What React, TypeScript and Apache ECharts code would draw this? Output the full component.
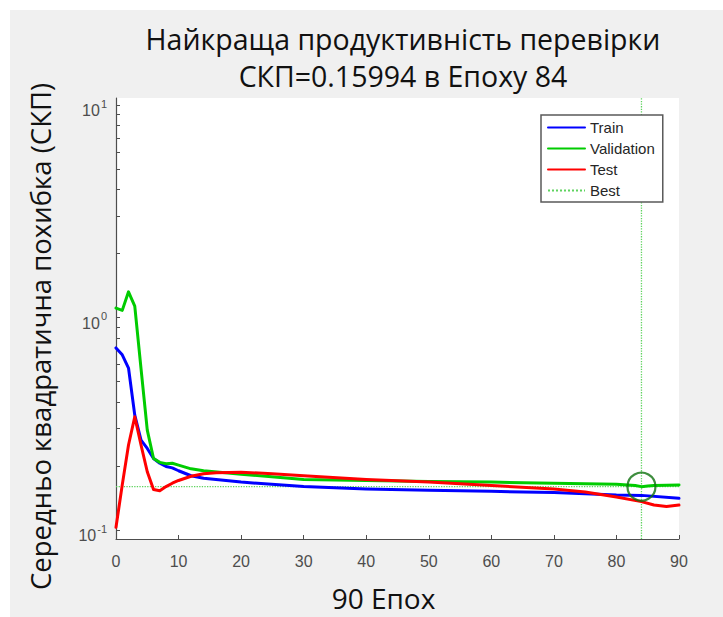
import React, { useEffect, useRef } from 'react';
import * as echarts from 'echarts';

// ---- data ----
const titleLines = ['Найкраща продуктивність перевірки', 'СКП=0.15994 в Епоху 84'];
const xAxisName = '90 Епох';
const yAxisName = 'Середньо квадратична похибка (СКП)';
const legendNames = ['Train', 'Validation', 'Test', 'Best'];

const trainEpochs = [0, 1, 2, 3, 4, 5, 6, 7, 8, 9, 10, 12, 14, 20, 30, 40, 50, 60, 70, 80, 84, 90];
const trainValues = [0.719, 0.667, 0.578, 0.347, 0.265, 0.242, 0.217, 0.206, 0.199, 0.196, 0.19, 0.18, 0.175, 0.168, 0.16, 0.156, 0.154, 0.152, 0.15, 0.146, 0.1455, 0.141];

const valEpochs = [0, 1, 2, 3, 4, 5, 6, 7, 8, 9, 10, 12, 14, 20, 30, 40, 50, 60, 70, 80, 83, 84, 85, 86, 90];
const valValues = [1.107, 1.08, 1.32, 1.13, 0.574, 0.295, 0.217, 0.208, 0.205, 0.206, 0.202, 0.194, 0.19, 0.183, 0.173, 0.171, 0.169, 0.168, 0.166, 0.164, 0.162, 0.15994, 0.161, 0.162, 0.163];

const testEpochs = [0, 1, 2, 3, 4, 5, 6, 7, 8, 9, 10, 12, 14, 16, 20, 25, 30, 40, 50, 60, 70, 75, 80, 84, 86, 88, 90];
const testValues = [0.103, 0.163, 0.251, 0.341, 0.251, 0.188, 0.155, 0.153, 0.16, 0.166, 0.171, 0.179, 0.184, 0.186, 0.187, 0.184, 0.18, 0.173, 0.168, 0.162, 0.156, 0.151, 0.143, 0.136, 0.131, 0.129, 0.131];

const bestEpoch = 84;
const bestPerf = 0.15994;

const xMin = 0;
const xMax = 90;
const xInterval = 10;
const yMin = 0.0907;
const yMax = 10.78;
const yLabelValues = [0.1, 1, 10];
const yTickValues = [0.1, 0.2, 0.3, 0.4, 0.5, 0.6, 0.7, 0.8, 0.9, 1, 2, 3, 4, 5, 6, 7, 8, 9, 10];

const pairs = (xs: number[], ys: number[]) => xs.map((x, i) => [x, ys[i]]);

const AXIS_COLOR = '#4d4d4d';
const LABEL_FONT = 'Liberation Sans, Arial, sans-serif';
const TITLE_FONT = 'Open Sans, Noto Sans, sans-serif';

export default function App() {
  const ref = useRef<HTMLDivElement>(null);
  useEffect(() => {
    document.body.style.margin = '0';
    if (!ref.current) return;
    const chart = echarts.init(ref.current, undefined, { renderer: 'svg' });
    chart.setOption({
      animation: false,
      backgroundColor: '#ffffff',
      graphic: [
        {
          type: 'rect',
          z: -100,
          silent: true,
          shape: { x: 10, y: 10, width: 713, height: 607 },
          style: { fill: '#f0f0f0' },
        },
      ],
      title: {
        text: titleLines.join('\n'),
        left: 398,
        top: 15,
        textAlign: 'center',
        textStyle: {
          fontFamily: TITLE_FONT,
          fontSize: 28.5,
          fontWeight: 'normal',
          color: '#111111',
          lineHeight: 37,
        },
      },
      grid: {
        left: 116,
        right: 44,
        top: 98,
        bottom: 76,
        show: true,
        backgroundColor: '#ffffff',
        borderWidth: 0,
      },
      legend: {
        orient: 'vertical',
        left: 541,
        top: 115,
        data: legendNames,
        itemWidth: 37,
        itemHeight: 14,
        itemGap: 6,
        padding: [5, 8, 4, 6],
        backgroundColor: '#ffffff',
        borderColor: '#5a5a5a',
        borderWidth: 1.5,
        selectedMode: false,
        itemStyle: { opacity: 0 },
        textStyle: { fontFamily: LABEL_FONT, fontSize: 15, color: '#262626' },
      },
      xAxis: {
        type: 'value',
        min: xMin,
        max: xMax,
        interval: xInterval,
        name: xAxisName,
        nameLocation: 'middle',
        nameGap: 45,
        nameTextStyle: { fontFamily: TITLE_FONT, fontSize: 28, color: '#111111', padding: [0, 28, 0, 0] },
        axisLine: { onZero: false, lineStyle: { color: AXIS_COLOR, width: 1.2 } },
        axisTick: { inside: true, length: 4, lineStyle: { color: AXIS_COLOR } },
        axisLabel: { margin: 14, fontSize: 16, color: AXIS_COLOR, fontFamily: LABEL_FONT },
        splitLine: { show: false },
      },
      yAxis: {
        type: 'log',
        logBase: 10,
        min: yMin,
        max: yMax,
        name: yAxisName,
        nameLocation: 'middle',
        nameRotate: 90,
        nameGap: 62,
        nameTextStyle: { fontFamily: TITLE_FONT, fontSize: 27.5, color: '#111111', padding: [0, 36, 0, 0] },
        axisLine: { show: true, lineStyle: { color: AXIS_COLOR, width: 1.2 } },
        axisTick: { show: true, inside: true, length: 4, customValues: yTickValues, lineStyle: { color: AXIS_COLOR } },
        axisLabel: {
          customValues: yLabelValues,
          margin: 9,
          color: AXIS_COLOR,
          fontFamily: LABEL_FONT,
          fontSize: 16,
          formatter: (v: number) => `{b|10}{s|${Math.round(Math.log10(v))}}`,
          rich: {
            b: { fontSize: 16, color: AXIS_COLOR, fontFamily: LABEL_FONT, padding: [12, 0, 0, 0] },
            s: { fontSize: 11, color: AXIS_COLOR, fontFamily: LABEL_FONT, padding: [0, 0, 2, 1] },
          },
        },
        splitLine: { show: false },
        minorTick: { show: false },
      },
      series: [
        {
          name: 'Train',
          type: 'line',
          data: pairs(trainEpochs, trainValues),
          symbol: 'none',
          showSymbol: false,
          lineStyle: { color: '#0000ff', width: 3, cap: 'round', join: 'round' },
          itemStyle: { color: '#0000ff' },
          z: 2,
        },
        {
          name: 'Validation',
          type: 'line',
          data: pairs(valEpochs, valValues),
          symbol: 'none',
          showSymbol: false,
          lineStyle: { color: '#00cc00', width: 3, cap: 'round', join: 'round' },
          itemStyle: { color: '#00cc00' },
          z: 3,
        },
        {
          name: 'Test',
          type: 'line',
          data: pairs(testEpochs, testValues),
          symbol: 'none',
          showSymbol: false,
          lineStyle: { color: '#ff0000', width: 3, cap: 'round', join: 'round' },
          itemStyle: { color: '#ff0000' },
          z: 4,
        },
        {
          name: 'Best',
          type: 'line',
          data: [
            [xMin, bestPerf],
            [xMax, bestPerf],
            [bestEpoch, '-'],
            [bestEpoch, yMin],
            [bestEpoch, yMax],
          ],
          symbol: 'none',
          showSymbol: false,
          connectNulls: false,
          lineStyle: { color: '#5fd35f', width: 1.3, type: 'dotted' },
          itemStyle: { color: '#5fd35f' },
          z: 1,
        },
        {
          name: 'BestPoint',
          type: 'scatter',
          data: [[bestEpoch, bestPerf]],
          symbol: 'circle',
          symbolSize: 28,
          itemStyle: { color: 'rgba(0,0,0,0)', borderColor: '#0e700e', borderWidth: 2.2 },
          z: 5,
        },
      ],
    });
    return () => chart.dispose();
  }, []);
  return <div ref={ref} style={{ width: 723, height: 617 }} />;
}
